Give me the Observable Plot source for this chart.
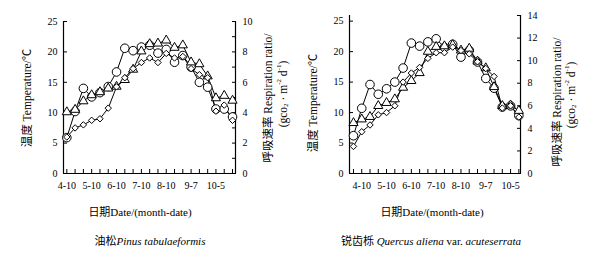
<!DOCTYPE html>
<html><head><meta charset="utf-8">
<script src="https://cdn.jsdelivr.net/npm/d3@7"></script>
<script src="https://cdn.jsdelivr.net/npm/@observablehq/plot@0.6"></script>
<style>
body{margin:0;background:#fff;}
#root{position:relative;width:599px;height:264px;overflow:hidden;font-family:"Liberation Serif","Times New Roman",Times,"Noto Sans CJK SC",serif;color:#000;}
.panel{position:absolute;top:0;}
.ht{position:absolute;white-space:nowrap;transform:translate(-50%,-50%);font-size:11px;line-height:1;}
</style></head><body><div id="root"></div>
<script>
// ---- data: Pinus tabulaeformis (left panel) ----
const datesPinus = ["4-10","4-20","4-30","5-10","5-20","5-30","6-10","6-20","6-30","7-10","7-20","7-30","8-10","8-20","8-30","9-7","9-17","9-27","10-5","10-15","10-25"];
const airTempPinus  = [5.9,10.2,14.0,12.6,13.3,14.3,16.7,20.6,20.2,20.8,21.1,19.8,20.4,18.3,19.4,17.5,15.0,14.2,10.6,10.6,9.3];
const soilTempPinus = [10.1,10.5,11.9,12.9,13.4,14.0,14.3,15.4,17.1,20.1,21.3,21.4,21.9,20.7,21.1,18.3,18.0,16.0,12.4,12.8,12.0];
const respPinus     = [2.4,3.0,3.2,3.5,3.6,4.3,5.7,6.3,6.9,7.3,7.6,7.3,7.9,7.6,7.7,6.9,6.5,6.3,4.1,4.5,3.5];

// ---- data: Quercus aliena var. acuteserrata (right panel) ----
const datesQuercus = ["4-1","4-10","4-20","4-30","5-10","5-20","5-30","6-10","6-20","6-30","7-10","7-20","7-30","8-10","8-20","8-30","9-7","9-17","9-27","10-5","10-15"];
const airTempQuercus  = [6.2,10.7,14.6,13.0,13.9,15.0,17.3,21.4,20.9,21.6,22.1,20.7,21.2,19.1,20.2,18.3,15.6,14.0,10.9,11.1,9.5];
const soilTempQuercus = [8.3,8.9,9.3,11.1,11.6,12.2,14.1,15.2,16.5,20.0,20.8,20.9,21.1,20.2,20.5,18.4,17.3,14.2,11.1,11.2,10.3];
const respQuercus     = [2.4,3.7,4.3,5.2,5.4,6.0,8.1,8.9,9.4,10.2,10.7,10.7,11.2,10.9,10.6,9.9,9.3,8.6,5.8,6.0,5.0];

// ---- tick labels ----
const majorDates = ["4-10","5-10","6-10","7-10","8-10","9-7","10-5"];
const tempTicks = [0,5,10,15,20,25];
const respTicksPinus = [0,2,4,6,8,10];
const respMinorPinus = [0,1,2,3,4,5,6,7,8,9,10];
const respTicksQuercus = [0,2,4,6,8,10,12,14];

const FONT = '"Liberation Serif","Times New Roman",Times,"Noto Sans CJK SC",serif';

function drawPanel(o) {
  const idx = o.dates.map((d, i) => i);
  const series = [
    {sym: "circle", r: 4.3, vals: o.air},
    {sym: "triangle", r: 3.4, vals: o.soil},
    {sym: "diamond2", r: 2.9, vals: o.resp.map(v => v / o.factor)}
  ];
  const rows = series.flatMap(s => s.vals.map((v, i) => ({i, v, s: s.sym, r: s.r})));
  const f = d => String(Math.round(d * o.factor));
  return Plot.plot({
    width: 300, height: 200,
    marginLeft: o.ml, marginRight: o.mr, marginTop: o.mt, marginBottom: 27,
    style: {fontFamily: FONT, fontSize: "10px", color: "#000", background: "transparent", overflow: "visible"},
    x: {type: "linear", domain: o.xDomain, label: null},
    y: {domain: [0, o.yMax], label: null},
    marks: [
      Plot.ruleY([0], {stroke: "#000", strokeWidth: 1.2}),
      Plot.ruleX(o.xDomain, {stroke: "#000", strokeWidth: 1.2}),
      Plot.axisX({ticks: idx, tickSize: 4, dy: -4, tickFormat: () => "", label: null}),
      Plot.axisX({ticks: idx, tickSize: 0, tickPadding: 8, tickFormat: i => majorDates.includes(o.dates[i]) ? o.dates[i] : "", label: null}),
      Plot.axisY({ticks: tempTicks, tickSize: 4, dx: 4, tickFormat: () => "", label: null}),
      Plot.axisY({ticks: tempTicks, tickSize: 0, tickPadding: 6, label: null}),
      Plot.axisY({anchor: "right", ticks: o.respMinor.map(r => r / o.factor), tickSize: 4, dx: -4, tickFormat: () => "", label: null}),
      Plot.axisY({anchor: "right", ticks: o.respTicks.map(r => r / o.factor), tickSize: 0, tickPadding: 7, tickFormat: f, label: null}),
      Plot.line(rows, {x: "i", y: "v", z: "s", stroke: "#000", strokeWidth: 1}),
      ...series.map(s => Plot.dot(rows.filter(d => d.s === s.sym), {x: "i", y: "v", symbol: s.sym, r: s.r, fill: "#fff", stroke: "#000", strokeWidth: 1}))
    ]
  });
}

const yLabel = "温度 Temperature/℃";
const rLabel1 = "呼吸速率 Respiration ratio/";

function vText(svg, x, y, parts) {
  const t = d3.select(svg).append("text")
    .attr("transform", `translate(${x},${y}) rotate(-90)`)
    .attr("text-anchor", "middle")
    .attr("dominant-baseline", "central")
    .attr("font-family", FONT)
    .attr("font-size", 11.5)
    .attr("fill", "#000");
  for (const p of parts) {
    const ts = t.append("tspan").text(p.t);
    if (p.sub) ts.attr("font-size", 7).attr("dy", 3);
    if (p.sup) ts.attr("font-size", 7).attr("dy", -4);
    if (p.back) ts.attr("dy", p.back);
  }
}
function unitParts() {
  return [
    {t: "(gco"}, {t: "2", sub: true}, {t: " · m", back: -3}, {t: "-2", sup: true},
    {t: " d", back: 4}, {t: "-1", sup: true}, {t: ")", back: 4}
  ];
}

const root = document.getElementById("root");

const left = drawPanel({
  dates: datesPinus, air: airTempPinus, soil: soilTempPinus, resp: respPinus,
  factor: 0.4, yMax: 25, respTicks: respTicksPinus, respMinor: respMinorPinus,
  xDomain: [-0.4, 20.36], ml: 63, mr: 65, mt: 21
});
left.classList.add("panel"); left.style.left = "0px";
root.appendChild(left);
vText(left, 27, 98, [{t: yLabel}]);
vText(left, 268, 98, [{t: rLabel1}]);
vText(left, 283, 94, unitParts());

const right = drawPanel({
  dates: datesQuercus, air: airTempQuercus, soil: soilTempQuercus, resp: respQuercus,
  factor: 0.54, yMax: 14 / 0.54, respTicks: respTicksQuercus, respMinor: respTicksQuercus,
  xDomain: [-0.48, 20.2], ml: 49, mr: 80, mt: 15
});
right.classList.add("panel"); right.style.left = "300px";
root.appendChild(right);
vText(right, 13, 103, [{t: yLabel}]);
vText(right, 257, 102, [{t: rLabel1}]);
vText(right, 271, 95, unitParts());

function addText(html, x, y) {
  const d = document.createElement("div");
  d.className = "ht"; d.innerHTML = html;
  d.style.left = x + "px"; d.style.top = y + "px";
  root.appendChild(d);
}
addText("日期Date/(month-date)", 140, 212);
addText("日期Date/(month-date)", 432, 212);
addText("油松<i>Pinus tabulaeformis</i>", 150, 241);
addText("锐齿栎 <i>Quercus aliena</i> var. <i>acuteserrata</i>", 431, 241);
</script></body></html>
